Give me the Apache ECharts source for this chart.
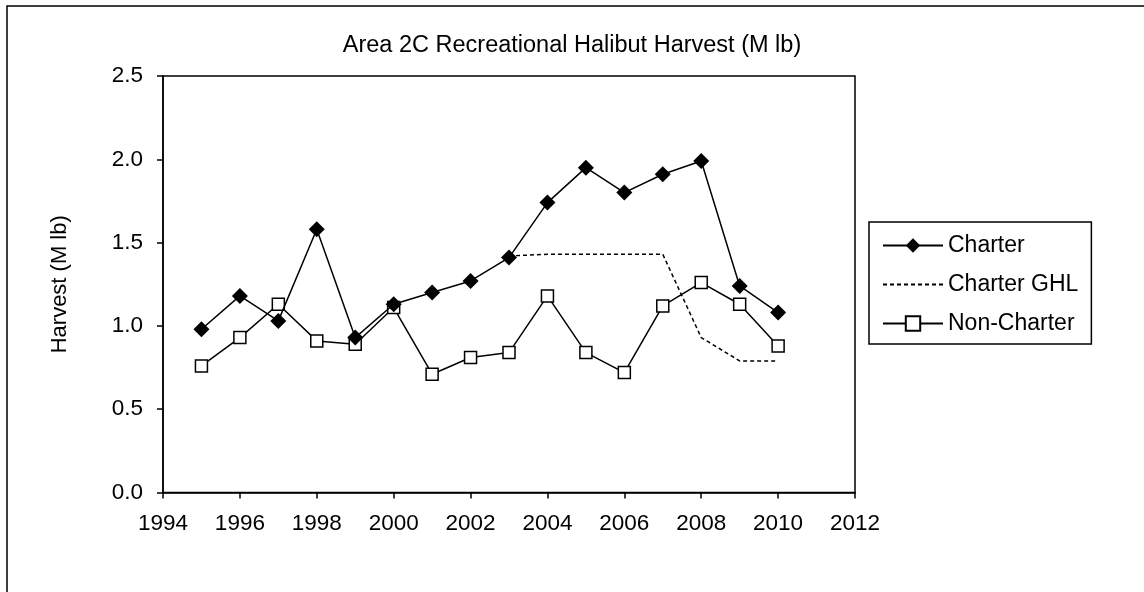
<!DOCTYPE html>
<html>
<head>
<meta charset="utf-8">
<script src="https://cdn.jsdelivr.net/npm/echarts@6/dist/echarts.min.js"></script>
<style>
  html, body { margin: 0; padding: 0; background: #fff; }
  #main { width: 1144px; height: 592px; }
</style>
</head>
<body>
<div id="main"></div>
<script>
// harvest values (M lb)
var years = [1995, 1996, 1997, 1998, 1999, 2000, 2001, 2002, 2003, 2004, 2005, 2006, 2007, 2008, 2009, 2010];
var charter = [0.98, 1.18, 1.03, 1.58, 0.93, 1.13, 1.20, 1.27, 1.41, 1.74, 1.95, 1.80, 1.91, 1.99, 1.24, 1.08];
var nonCharter = [0.76, 0.93, 1.13, 0.91, 0.89, 1.11, 0.71, 0.81, 0.84, 1.18, 0.84, 0.72, 1.12, 1.26, 1.13, 0.88];
var ghlYears = [2003, 2004, 2005, 2006, 2007, 2008, 2009, 2010];
var charterGhl = [1.42, 1.43, 1.43, 1.43, 1.43, 0.93, 0.79, 0.79];

var font = '"Liberation Sans", Arial, sans-serif';

function pairs(xs, ys) {
  return xs.map(function (x, i) { return [x, ys[i]]; });
}

var chart = echarts.init(document.getElementById('main'));

var option = {
  backgroundColor: '#fff',
  animation: false,
  textStyle: { fontFamily: font, color: '#000' },

  title: {
    text: 'Area 2C Recreational Halibut Harvest (M lb)',
    left: 'center',
    top: 29,
    textStyle: { fontFamily: font, fontSize: 23.5, fontWeight: 'normal', color: '#000' }
  },

  graphic: [{
    type: 'rect',
    shape: { x: 7, y: 6, width: 1160, height: 620 },
    style: { fill: 'none', stroke: '#000', lineWidth: 1.5 },
    silent: true
  }],

  legend: {
    orient: 'vertical',
    left: 869,
    top: 222,
    padding: [12, 13, 9, 13],
    itemGap: 16,
    itemWidth: 60,
    itemHeight: 18,
    borderColor: '#000',
    borderWidth: 1.5,
    data: [
      'Charter',
      { name: 'Charter GHL', itemStyle: { opacity: 0 } },
      'Non-Charter'
    ],
    textStyle: { fontFamily: font, fontSize: 23, lineHeight: 23, color: '#000' }
  },

  grid: {
    left: 163,
    right: 289,
    top: 76,
    bottom: 99.5,
    show: true,
    borderColor: '#000',
    borderWidth: 1.5,
    backgroundColor: 'transparent'
  },

  xAxis: {
    type: 'value',
    min: 1994,
    max: 2012,
    interval: 2,
    axisLine: { lineStyle: { color: '#000', width: 1.5 } },
    axisTick: { show: true, length: 6, lineStyle: { color: '#000', width: 1.5 } },
    axisLabel: {
      fontFamily: font, fontSize: 22.5, color: '#000', margin: 20,
      formatter: function (v) { return String(v); }
    },
    splitLine: { show: false }
  },

  yAxis: {
    type: 'value',
    min: 0,
    max: 2.5,
    interval: 0.5,
    name: 'Harvest (M lb)',
    nameLocation: 'middle',
    nameRotate: 90,
    nameGap: 92,
    nameTextStyle: { fontFamily: font, fontSize: 22, color: '#000' },
    axisLine: { show: true, lineStyle: { color: '#000', width: 1.5 } },
    axisTick: { show: true, length: 6, lineStyle: { color: '#000', width: 1.5 } },
    axisLabel: {
      fontFamily: font, fontSize: 22.5, color: '#000', margin: 20,
      formatter: function (v) { return v.toFixed(1); }
    },
    splitLine: { show: false }
  },

  series: [
    {
      name: 'Non-Charter',
      type: 'line',
      z: 2,
      data: pairs(years, nonCharter),
      symbol: 'rect',
      symbolSize: 12,
      showAllSymbol: true,
      lineStyle: { color: '#000', width: 1.5 },
      itemStyle: { color: '#fff', borderColor: '#000', borderWidth: 1.5 }
    },
    {
      name: 'Charter GHL',
      type: 'line',
      z: 3,
      data: pairs(ghlYears, charterGhl),
      symbol: 'none',
      lineStyle: { color: '#000', width: 1.5, type: [4, 3] },
      itemStyle: { color: '#000' }
    },
    {
      name: 'Charter',
      type: 'line',
      z: 4,
      data: pairs(years, charter),
      symbol: 'diamond',
      symbolSize: [16, 16],
      showAllSymbol: true,
      lineStyle: { color: '#000', width: 1.5 },
      itemStyle: { color: '#000', borderColor: '#000', borderWidth: 0 }
    }
  ]
};

chart.setOption(option);
window.addEventListener('resize', chart.resize);
</script>
</body>
</html>
